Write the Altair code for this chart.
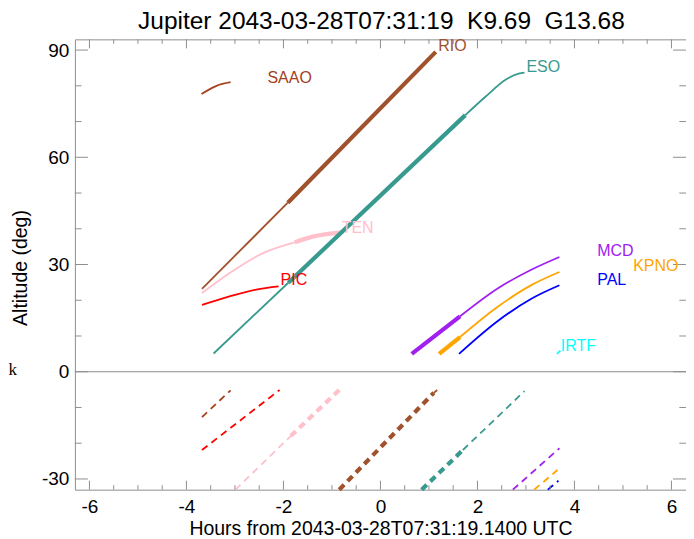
import altair as alt
import pandas as pd

# ---------------- data ----------------
title_text = "Jupiter 2043-03-28T07:31:19\u00a0\u00a0K9.69\u00a0\u00a0G13.68"
sites = ["SAAO", "RIO", "TEN", "PIC", "ESO", "MCD", "KPNO", "PAL", "IRTF"]
colors = ["#a5401a", "#a0522d", "#ffc0cb", "#ff0000", "#389a8f",
          "#a020f0", "#ffa500", "#0000ff", "#00ffff"]

# target altitude tracks (hours, deg)
saao_h = [-3.69, -3.38, -3.09]
saao_a = [77.7, 80.0, 81.0]
rio_thin_h = [-3.68, -1.91]
rio_thin_a = [23.2, 47.3]
rio_thick_h = [-1.91, 1.14]
rio_thick_a = [47.3, 89.5]
ten_thin_h = [-3.68, -3.11, -2.42, -1.77]
ten_thin_a = [22.0, 27.6, 33.2, 36.2]
ten_thick_h = [-1.77, -1.40, -0.80]
ten_thick_a = [36.2, 37.8, 39.0]
pic_h = [-3.68, -3.11, -2.56, -2.10]
pic_a = [18.7, 21.1, 23.0, 23.9]
eso_thin1_h = [-3.44, -1.90]
eso_thin1_a = [5.1, 24.9]
eso_thick_h = [-1.90, 1.75]
eso_thick_a = [24.9, 71.8]
eso_thin2_h = [1.75, 2.17, 2.58, 2.85, 2.97]
eso_thin2_a = [71.8, 77.0, 81.7, 83.4, 83.7]
mcd_thick_h = [0.645, 1.64]
mcd_thick_a = [5.0, 15.5]
mcd_thin_h = [1.64, 2.44, 3.12, 3.69]
mcd_thin_a = [15.5, 23.5, 28.6, 32.1]
kpno_thick_h = [1.21, 1.64]
kpno_thick_a = [5.0, 9.7]
kpno_thin_h = [1.64, 2.44, 3.12, 3.69]
kpno_thin_a = [9.7, 18.4, 24.3, 27.9]
pal_h = [1.62, 2.44, 3.12, 3.69]
pal_a = [5.0, 14.4, 20.5, 24.2]
irtf_h = [3.64, 3.71]
irtf_a = [5.0, 5.9]

# dashed tracks (lower panel)
saao_d_h = [-3.68, -3.09]
saao_d_a = [-12.7, -5.2]
pic_d_h = [-3.68, -2.08]
pic_d_a = [-21.9, -5.1]
ten_d_thin_h = [-2.99, -1.85]
ten_d_thin_a = [-33.0, -18.0]
ten_d_thick_h = [-1.85, -0.85]
ten_d_thick_a = [-18.0, -5.1]
rio_d_thick_h = [-0.85, 1.10]
rio_d_thick_a = [-33.0, -5.9]
rio_d_thin_h = [1.10, 1.17]
rio_d_thin_a = [-5.9, -5.1]
eso_d_thick_h = [0.85, 1.70]
eso_d_thick_a = [-33.0, -21.9]
eso_d_thin_h = [1.70, 2.97]
eso_d_thin_a = [-21.9, -5.4]
mcd_d_h = [2.73, 3.69]
mcd_d_a = [-33.0, -21.4]
kpno_d_h = [3.17, 3.65]
kpno_d_a = [-33.0, -27.5]
pal_d_h = [3.45, 3.67]
pal_d_a = [-33.0, -30.5]

# label anchors
label_sites = ["RIO", "SAAO", "ESO", "TEN", "PIC", "MCD", "KPNO", "PAL", "IRTF"]
label_h = [1.19, -2.33, 3.01, -0.80, -2.06, 4.47, 5.21, 4.47, 3.72]
label_a = [91.1, 82.2, 85.2, 40.3, 25.6, 33.7, 29.5, 25.8, 7.2]

# axis ticks
x_labels = [-6, -4, -2, 0, 2, 4, 6]
x_minor = [-5.5, -5, -4.5, -3.5, -3, -2.5, -1.5, -1, -0.5,
           0.5, 1, 1.5, 2.5, 3, 3.5, 4.5, 5, 5.5]
y_labels = [-30, 0, 30, 60, 90]
y_minor = [-20, -10, 10, 20, 40, 50, 70, 80]

THIN, THICK = 1.8, 4.2
segments = [
    ("SAAO", "solid", THIN, saao_h, saao_a),
    ("RIO", "solid", THIN, rio_thin_h, rio_thin_a),
    ("RIO", "solid", THICK, rio_thick_h, rio_thick_a),
    ("TEN", "solid", THIN, ten_thin_h, ten_thin_a),
    ("TEN", "solid", THICK, ten_thick_h, ten_thick_a),
    ("PIC", "solid", THIN, pic_h, pic_a),
    ("ESO", "solid", THIN, eso_thin1_h, eso_thin1_a),
    ("ESO", "solid", THICK, eso_thick_h, eso_thick_a),
    ("ESO", "solid", THIN, eso_thin2_h, eso_thin2_a),
    ("MCD", "solid", THICK, mcd_thick_h, mcd_thick_a),
    ("MCD", "solid", THIN, mcd_thin_h, mcd_thin_a),
    ("KPNO", "solid", THICK, kpno_thick_h, kpno_thick_a),
    ("KPNO", "solid", THIN, kpno_thin_h, kpno_thin_a),
    ("PAL", "solid", THIN, pal_h, pal_a),
    ("IRTF", "solid", THIN, irtf_h, irtf_a),
    ("SAAO", "dash", THIN, saao_d_h, saao_d_a),
    ("PIC", "dash", THIN, pic_d_h, pic_d_a),
    ("TEN", "dash", THIN, ten_d_thin_h, ten_d_thin_a),
    ("TEN", "dash", THICK, ten_d_thick_h, ten_d_thick_a),
    ("RIO", "dash", THICK, rio_d_thick_h, rio_d_thick_a),
    ("RIO", "dash", THIN, rio_d_thin_h, rio_d_thin_a),
    ("ESO", "dash", THICK, eso_d_thick_h, eso_d_thick_a),
    ("ESO", "dash", THIN, eso_d_thin_h, eso_d_thin_a),
    ("MCD", "dash", THIN, mcd_d_h, mcd_d_a),
    ("KPNO", "dash", THIN, kpno_d_h, kpno_d_a),
    ("PAL", "dash", THIN, pal_d_h, pal_d_a),
]

rows = []
for i, (site, kind, w, hs, as_) in enumerate(segments):
    for h, a in zip(hs, as_):
        rows.append({"site": site, "kind": kind, "w": w, "seg": i, "h": h, "a": a})
df = pd.DataFrame(rows)
df_lab = pd.DataFrame({"site": label_sites, "h": label_h, "a": label_a})

# ---------------- chart ----------------
W, H = 612, 451
GRAY = "#8f8f8f"
FONT = "Liberation Sans"

xs = alt.Scale(domain=[-6.3, 6.3], nice=False, zero=False)
ys = alt.Scale(domain=[-33, 93], nice=False, zero=False)
cs = alt.Scale(domain=sites, range=colors)

minus_expr = "(datum.value < 0 ? '-' : '') + abs(datum.value)"

xaxis = alt.Axis(values=x_labels, tickSize=0, domain=False, grid=False,
                 labelFontSize=19, labelFont=FONT, labelColor="black",
                 labelPadding=7.5, labelFlush=False, labelExpr=minus_expr,
                 title="Hours from 2043-03-28T07:31:19.1400 UTC",
                 titleFontSize=19.5, titleFont=FONT, titleFontWeight="normal",
                 titleColor="black", titleBaseline="alphabetic",
                 titleY=44.5, titleX=W / 2)
yaxis = alt.Axis(values=y_labels, tickSize=0, domain=False, grid=False,
                 labelFontSize=19, labelFont=FONT, labelColor="black",
                 labelPadding=6, labelFlush=False, labelExpr=minus_expr,
                 title="Altitude (deg)", titleFontSize=19.5, titleFont=FONT,
                 titleFontWeight="normal", titleColor="black",
                 titleBaseline="alphabetic", titleX=-48, titleY=228.5,
                 titleAngle=-90, titleAlign="center")

X = lambda f: alt.X(f, scale=xs, axis=xaxis)
Y = lambda f: alt.Y(f, scale=ys, axis=yaxis)


def xticks(vals, length, top):
    d = pd.DataFrame({"v": vals})
    y0 = 0 if top else H
    y1 = length if top else H - length
    return alt.Chart(d).mark_rule(color=GRAY, strokeWidth=1).encode(
        x=X("v:Q"), y=alt.value(y0), y2=alt.value(y1))


def yticks(vals, length, right):
    d = pd.DataFrame({"v": vals})
    x0 = W if right else 0
    x1 = W - length if right else length
    return alt.Chart(d).mark_rule(color=GRAY, strokeWidth=1).encode(
        y=Y("v:Q"), x=alt.value(x0), x2=alt.value(x1))


solid = alt.Chart(df).transform_filter(alt.datum.kind == "solid").mark_line(
    strokeCap="butt", interpolate="monotone").encode(
    x=X("h:Q"), y=Y("a:Q"),
    color=alt.Color("site:N", scale=cs, legend=None),
    detail="seg:N",
    strokeWidth=alt.StrokeWidth("w:Q", scale=None),
    order="h:Q")

dashed = alt.Chart(df).transform_filter(alt.datum.kind == "dash").mark_line(
    strokeCap="butt", strokeDash=[7, 5]).encode(
    x=X("h:Q"), y=Y("a:Q"),
    color=alt.Color("site:N", scale=cs, legend=None),
    detail="seg:N",
    strokeWidth=alt.StrokeWidth("w:Q", scale=None),
    order="h:Q")

tick_layers = [
    xticks(x_labels, 9, False), xticks(x_minor, 4.5, False),
    xticks(x_labels, 9, True), xticks(x_minor, 4.5, True),
    yticks(y_labels, 13, False), yticks(y_minor, 6.7, False),
    yticks(y_labels, 13, True), yticks(y_minor, 6.7, True),
]

zero_line = alt.Chart(pd.DataFrame({"z": [0]})).mark_rule(
    color=GRAY, strokeWidth=1).encode(y=Y("z:Q"))

labels = alt.Chart(df_lab).mark_text(
    align="left", baseline="middle", fontSize=16, font=FONT).encode(
    x=X("h:Q"), y=Y("a:Q"),
    color=alt.Color("site:N", scale=cs, legend=None),
    text="site:N")

k_label = alt.Chart(pd.DataFrame({"h": [-7.67], "a": [-0.8], "t": ["k"]})).mark_text(
    align="left", baseline="alphabetic", fontSize=17, font="Liberation Serif",
    color="black").encode(x=X("h:Q"), y=Y("a:Q"), text="t:N")

title_mark = alt.Chart(pd.DataFrame({"t": [title_text]})).mark_text(
    align="center", baseline="alphabetic", fontSize=24.5, font=FONT,
    color="black").encode(text="t:N", x=alt.value(W / 2 + 1), y=alt.value(-10.8))

chart = alt.layer(solid, dashed, zero_line, *tick_layers, labels, k_label,
                  title_mark).properties(
    width=W, height=H,
    autosize=alt.AutoSizeParams(type="none"),
    padding={"left": 67, "top": 31, "right": 0, "bottom": 49},
).configure_view(stroke=GRAY, strokeWidth=1)

chart.save("out.html", embed_options={"renderer": "svg", "actions": False})
